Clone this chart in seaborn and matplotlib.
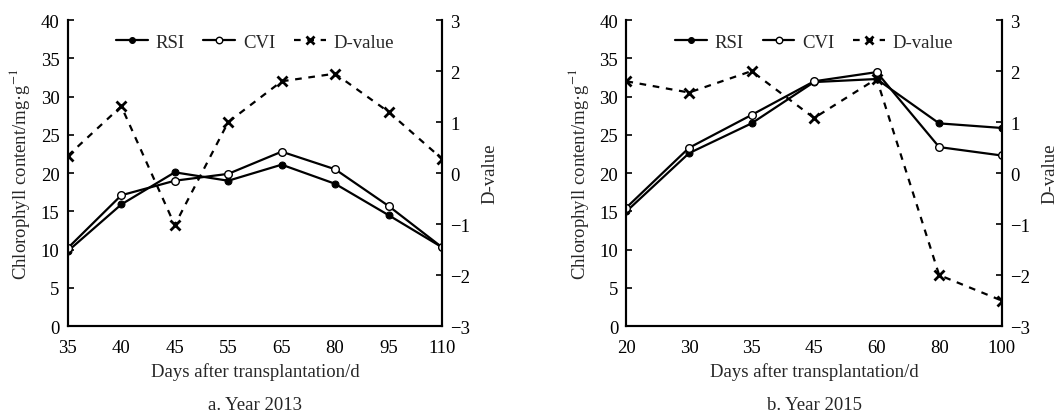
import numpy as np
import pandas as pd
import matplotlib
matplotlib.use("Agg")
import matplotlib.pyplot as plt
import seaborn as sns

days_2013 = [35, 40, 45, 55, 65, 80, 95, 110]
rsi_2013 = [9.8, 15.9, 20.1, 19.0, 21.1, 18.6, 14.5, 10.3]
cvi_2013 = [10.2, 17.1, 19.0, 19.9, 22.8, 20.5, 15.7, 10.3]
dval_2013 = [0.34, 1.31, -1.02, 1.0, 1.80, 1.95, 1.20, 0.28]

days_2015 = [20, 30, 35, 45, 60, 80, 100]
rsi_2015 = [15.0, 22.6, 26.5, 31.9, 32.3, 26.5, 25.9]
cvi_2015 = [15.5, 23.3, 27.6, 32.0, 33.2, 23.4, 22.3]
dval_2015 = [1.8, 1.58, 2.0, 1.08, 1.85, -2.0, -2.5]

captions = ["a. Year 2013", "b. Year 2015"]

sns.set_theme(style="white")
plt.rcParams['font.family'] = ['Liberation Serif', 'DejaVu Serif']
plt.rcParams['mathtext.fontset'] = 'stix'
plt.rcParams['font.size'] = 13

fig = plt.figure(figsize=(10.6, 4.14), dpi=100)

panels = [
    (days_2013, rsi_2013, cvi_2013, dval_2013, [0.064, 0.210, 0.353, 0.739]),
    (days_2015, rsi_2015, cvi_2015, dval_2015, [0.591, 0.210, 0.354, 0.739]),
]

FS = 13.5
for i, (days, rsi, cvi, dv, rect) in enumerate(panels):
    ax = fig.add_axes(rect)
    pos = np.arange(len(days))
    df = pd.DataFrame({"pos": pos, "RSI": rsi, "CVI": cvi, "D": dv})
    sns.lineplot(data=df, x="pos", y="RSI", ax=ax, color="black", lw=1.6,
                 marker="o", markersize=5, markerfacecolor="black",
                 markeredgecolor="black", label="RSI", legend=False)
    sns.lineplot(data=df, x="pos", y="CVI", ax=ax, color="black", lw=1.6,
                 marker="o", markersize=5.5, markerfacecolor="white",
                 markeredgecolor="black", markeredgewidth=1.0, label="CVI", legend=False)
    ax2 = ax.twinx()
    sns.lineplot(data=df, x="pos", y="D", ax=ax2, color="black", lw=1.6,
                 linestyle=(0, (3, 3)), marker="x", markersize=7,
                 markeredgewidth=2, markeredgecolor="black", label="D-value", legend=False)

    ax.set_xlim(pos[0], pos[-1])
    ax.set_ylim(0, 40)
    ax.set_yticks(np.arange(0, 41, 5))
    ax2.set_ylim(-3, 3)
    ax2.set_yticks(np.arange(-3, 4, 1))
    ax2.set_yticklabels([f"{v}".replace("-", "\u2212") for v in range(-3, 4)])
    ax.set_xticks(pos)
    ax.set_xticklabels([str(d) for d in days])

    for a in (ax, ax2):
        a.spines['top'].set_visible(False)
        for s in ('left', 'right', 'bottom'):
            a.spines[s].set_color('black')
            a.spines[s].set_linewidth(1.5)
        a.tick_params(direction='in', length=4, width=1.2, colors='black',
                      labelsize=FS, pad=6)
    ax.tick_params(axis='x', pad=9)
    ax.set_xlabel("Days after transplantation/d", fontsize=FS, labelpad=5)
    ax.set_ylabel("Chlorophyll content/mg·g$^{-1}$", fontsize=FS, labelpad=6)
    ax2.set_ylabel("D-value", fontsize=FS, labelpad=8)
    ax2.grid(False)
    ax.grid(False)

    h1, l1 = ax.get_legend_handles_labels()
    h2, l2 = ax2.get_legend_handles_labels()
    ax.legend(h1 + h2, l1 + l2, loc="upper center", ncol=3, frameon=False,
              fontsize=FS, handlelength=1.7, columnspacing=1.0,
              handletextpad=0.4, markerscale=0.85, bbox_to_anchor=(0.5, 1.01))

    cx = rect[0] + rect[2] / 2
    fig.text(cx, 0.0, captions[i], ha="center", va="bottom", fontsize=FS)

fig.savefig("out.png", dpi=100)
